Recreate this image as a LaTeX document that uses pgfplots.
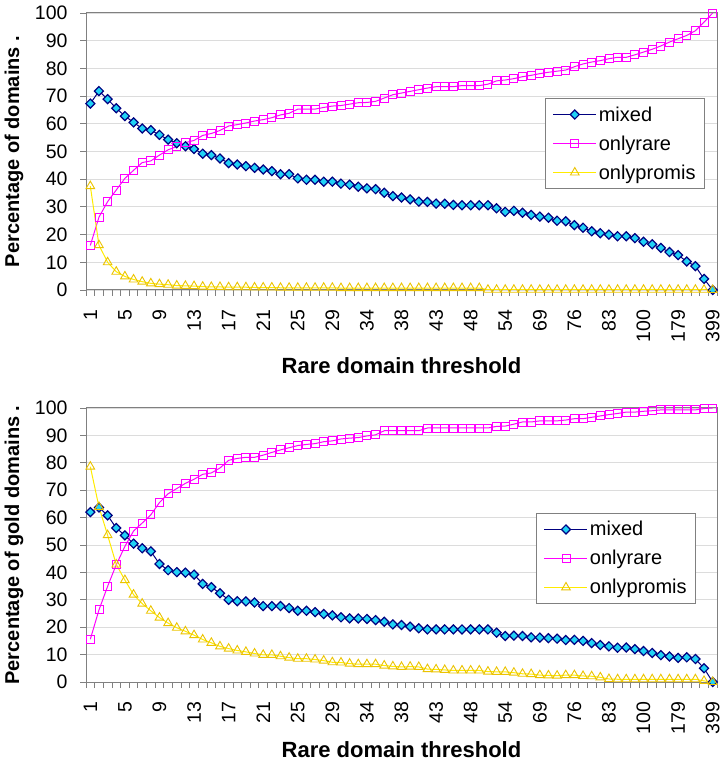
\documentclass[border=0pt]{standalone}
\usepackage{pgfplots}
\pgfplotsset{compat=1.18}
\usepackage{pgfplotstable}
\usepackage{fontspec}
\setmainfont{Liberation Sans}
\definecolor{navy}{RGB}{0,0,128}
\definecolor{cyanfill}{RGB}{32,210,245}
\definecolor{mag}{RGB}{255,0,255}
\definecolor{yel}{RGB}{255,235,0}
\definecolor{yelmark}{RGB}{235,195,0}
\definecolor{gridc}{RGB}{220,220,220}
\definecolor{axc}{RGB}{128,128,128}

\pgfplotstableread{
i mixed rare promis
0 67.3 16.1 37.5
1 71.8 26.3 16.2
2 68.9 31.9 10.0
3 65.6 36.1 6.6
4 62.8 40.3 4.9
5 60.5 43.2 3.8
6 58.3 46.0 3.0
7 57.7 46.6 2.4
8 56.0 48.7 2.1
9 54.3 50.6 1.9
10 53.0 51.8 1.6
11 51.9 53.2 1.5
12 50.9 54.0 1.4
13 49.2 55.8 1.2
14 48.7 56.5 1.1
15 47.5 57.6 1.1
16 45.8 59.2 1.0
17 45.3 59.7 1.0
18 44.7 60.3 1.0
19 44.1 61.0 0.9
20 43.5 61.5 0.9
21 42.9 62.2 0.9
22 41.8 63.2 0.8
23 41.8 63.8 0.8
24 40.3 65.3 0.8
25 39.8 65.3 0.8
26 39.8 65.3 0.8
27 39.1 65.9 0.8
28 39.1 66.4 0.8
29 38.4 66.6 0.7
30 38.0 67.1 0.7
31 37.3 67.6 0.7
32 36.7 67.7 0.7
33 36.4 68.1 0.7
34 35.1 69.3 0.7
35 33.9 70.5 0.7
36 33.4 71.1 0.7
37 32.7 71.7 0.7
38 31.9 72.3 0.7
39 31.8 72.9 0.7
40 31.2 73.4 0.7
41 31.1 73.4 0.7
42 30.7 73.4 0.7
43 30.6 73.8 0.7
44 30.6 73.8 0.7
45 30.6 73.8 0.7
46 30.6 74.3 0.1
47 29.5 75.5 0.1
48 28.2 75.8 0.1
49 28.6 76.3 0.1
50 27.9 77.0 0.1
51 27.1 77.5 0.1
52 26.5 78.1 0.1
53 26.1 78.6 0.1
54 25.0 79.0 0.1
55 24.8 79.4 0.1
56 23.4 80.6 0.1
57 22.5 81.6 0.1
58 21.2 82.3 0.1
59 20.5 82.8 0.1
60 20.0 83.5 0.1
61 19.4 84.0 0.1
62 19.4 84.0 0.1
63 18.7 84.9 0.1
64 17.4 85.9 0.1
65 16.5 86.9 0.1
66 15.2 88.1 0.1
67 13.7 89.5 0.1
68 12.6 90.7 0.1
69 10.3 91.9 0.1
70 8.6 93.6 0.1
71 4.0 96.7 0.1
72 0.0 100.0 0.0
}\toptable

\pgfplotstableread{
i mixed rare promis
0 62.0 15.6 78.6
1 63.7 26.3 63.9
2 60.8 34.9 53.6
3 56.2 42.8 42.9
4 53.5 49.5 37.2
5 50.5 55.1 31.9
6 48.8 58.0 28.6
7 47.7 61.0 26.0
8 43.1 65.5 23.5
9 40.8 68.7 21.5
10 40.1 70.6 19.8
11 39.9 72.5 18.5
12 39.2 74.0 17.1
13 35.8 75.8 15.5
14 34.6 76.3 14.3
15 32.4 78.1 13.0
16 30.0 80.9 12.2
17 29.5 81.6 11.5
18 29.4 82.0 11.0
19 29.0 82.0 10.4
20 27.7 82.8 9.9
21 27.7 83.8 9.9
22 27.7 84.7 9.4
23 27.0 85.5 8.9
24 26.0 86.3 8.5
25 26.0 86.7 8.5
26 25.5 87.0 8.2
27 24.8 87.7 7.8
28 24.3 88.0 7.2
29 23.6 88.7 7.1
30 23.2 89.0 6.7
31 23.2 89.2 6.5
32 23.0 89.8 6.5
33 22.6 90.2 6.5
34 22.0 91.7 6.0
35 21.0 91.7 5.7
36 20.8 91.7 5.5
37 20.2 91.7 5.6
38 19.6 91.7 5.5
39 19.2 92.7 4.7
40 19.2 92.7 4.6
41 19.2 92.7 4.4
42 19.2 92.7 4.2
43 19.2 92.7 4.2
44 19.2 92.7 4.2
45 19.2 92.7 4.2
46 19.2 92.7 3.8
47 18.0 93.3 3.7
48 16.8 93.4 3.7
49 16.9 94.1 3.4
50 16.8 94.9 3.0
51 16.3 94.9 2.9
52 16.2 95.3 2.5
53 16.0 95.3 2.4
54 15.8 95.3 2.3
55 15.3 95.6 2.5
56 15.4 96.1 2.5
57 15.0 96.1 2.2
58 14.2 96.6 2.1
59 13.5 97.1 1.7
60 13.0 97.6 1.1
61 12.5 98.0 1.0
62 12.6 98.5 1.0
63 12.0 98.5 1.0
64 11.3 98.8 1.0
65 10.6 99.0 1.0
66 9.8 99.3 1.0
67 9.3 99.3 1.0
68 8.8 99.3 1.0
69 9.0 99.3 1.0
70 8.4 99.3 1.0
71 5.0 99.8 0.4
72 0.0 100.0 0.0
}\bottable

\pgfplotsset{
  myaxis/.style={
    scale only axis,
    width=631pt,
    xmin=-0.5, xmax=72.5,
    ymin=0, ymax=100,
    ytick={0,10,...,100},
    xtick={0,4,...,72},
    xticklabels={1,5,9,13,17,21,25,29,34,38,43,48,54,69,76,83,100,179,399},
    minor xtick={-0.5,0.5,...,72.5},
    tick pos=left,
    tick align=outside,
    major tick length=6pt,
    minor tick length=6pt,
    major x tick style={draw=none},
    minor x tick style={draw=axc, line width=0.8pt},
    major y tick style={draw=axc, line width=0.8pt},
    ymajorgrids,
    grid style={draw=gridc, line width=0.8pt},
    axis line style={draw=axc, line width=1pt},
    /pgf/number format/assume math mode=true,
    ticklabel style={font=\fontsize{19.5}{22}\selectfont},
    xticklabel style={rotate=90, anchor=east},
    xticklabel shift=10pt,
    yticklabel shift=9pt,
    ylabel style={font=\fontsize{20}{24}\selectfont\bfseries},
    xlabel style={font=\fontsize{22}{26}\selectfont\bfseries},
    legend cell align=left,
    legend style={font=\fontsize{20}{24}\selectfont, draw=axc, line width=1pt, fill=white,
      row sep=9pt, inner xsep=7pt, inner ysep=6pt},
    legend image code/.code={\draw[mark repeat=2,mark phase=2,##1] plot coordinates {(0pt,0pt) (21.5pt,0pt) (43pt,0pt)};},
  },
  mixedstyle/.style={draw=navy, line width=1pt, mark=square*, mark size=3.2pt,
    mark options={rotate=45, fill=cyanfill, draw=navy, line width=1.2pt}},
  rarestyle/.style={draw=mag, line width=1pt, mark=square, mark size=4pt,
    mark options={fill=white, draw=mag, line width=0.9pt}},
  promisstyle/.style={draw=yel, line width=1pt, mark=triangle, mark size=5pt,
    mark options={fill=white, draw=yelmark, line width=0.9pt}},
}

\begin{document}
\begin{tikzpicture}
\useasboundingbox (0,0) rectangle (723pt,762pt);
\begin{axis}[myaxis,
  at={(86pt,472pt)}, anchor=south west, height=277pt,
  ylabel={Percentage of domains .},
  xlabel={Rare domain threshold},
  ylabel style={at={(axis description cs:-0.114,0.5)}, anchor=center},
  xlabel style={at={(axis description cs:0.5,-0.274)}, anchor=center},
  legend style={at={(axis description cs:0.981,0.693)}, anchor=north east},
]
\addplot[mixedstyle] table[x=i, y=mixed] {\toptable};
\addlegendentry{mixed}
\addplot[rarestyle] table[x=i, y=rare] {\toptable};
\addlegendentry{onlyrare}
\addplot[promisstyle] table[x=i, y=promis] {\toptable};
\addlegendentry{onlypromis}
\end{axis}
\begin{axis}[myaxis,
  at={(86pt,80pt)}, anchor=south west, height=274pt,
  ylabel={Percentage of gold domains .},
  xlabel={Rare domain threshold},
  ylabel style={at={(axis description cs:-0.114,0.5)}, anchor=center},
  xlabel style={at={(axis description cs:0.5,-0.248)}, anchor=center},
  legend style={at={(axis description cs:0.967,0.617)}, anchor=north east},
]
\addplot[mixedstyle] table[x=i, y=mixed] {\bottable};
\addlegendentry{mixed}
\addplot[rarestyle] table[x=i, y=rare] {\bottable};
\addlegendentry{onlyrare}
\addplot[promisstyle] table[x=i, y=promis] {\bottable};
\addlegendentry{onlypromis}
\end{axis}
\end{tikzpicture}
\end{document}
